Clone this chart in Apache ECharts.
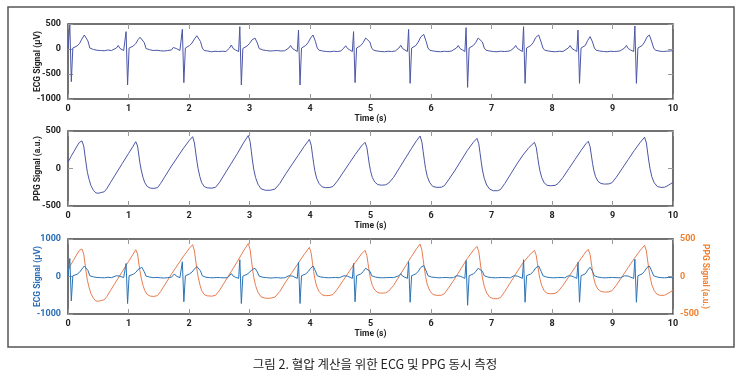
<!DOCTYPE html>
<html><head><meta charset="utf-8">
<script src="https://cdn.jsdelivr.net/npm/echarts@6/dist/echarts.min.js"></script>
<style>html,body{margin:0;padding:0;background:#fff}#c{width:750px;height:380px}</style>
</head><body><div id="c"></div>
<script>
// ---- data ----
const timeTicks = [0,1,2,3,4,5,6,7,8,9,10];
const ecgTicksTop = [-1000,-500,0,500];
const ppgTicks = [-500,0,500];
const ecgTicksBottom = [-1000,0,1000];

// ECG [time s, µV]
const ecg = [
[0,0],[0.01,-20],[0.03,480],[0.055,-653],[0.08,20],[0.11,40],[0.15,60],[0.19,110],[0.23,200],[0.27,280],[0.30,300],[0.33,160],[0.36,20],[0.39,-20],[0.42,-10],[0.45,-40],[0.48,-25],[0.51,-50],[0.54,-30],[0.57,-55],[0.60,-35],[0.63,-45],[0.66,-20],[0.69,-50],[0.72,-30],[0.75,-40],[0.80,20],[0.83,70],[0.86,10],[0.89,-20],[0.92,-30],[0.94,-50],
[0.96,347],[0.985,-720],[1.01,20],[1.04,40],[1.08,60],[1.12,110],[1.16,190],[1.19,235],[1.22,247],[1.26,130],[1.29,10],[1.32,-30],[1.35,-15],[1.38,-45],[1.41,-30],[1.44,-50],[1.47,-25],[1.50,-55],[1.53,-35],[1.56,-60],[1.59,-40],[1.62,-50],[1.65,-30],[1.68,-45],[1.71,-20],[1.74,30],[1.76,70],[1.79,10],[1.82,-20],[1.85,-30],[1.87,-50],
[1.89,393],[1.915,-673],[1.94,20],[1.97,40],[2.01,70],[2.05,120],[2.09,200],[2.13,265],[2.16,280],[2.19,150],[2.22,20],[2.25,-30],[2.28,-20],[2.31,-40],[2.34,-30],[2.37,-55],[2.40,-35],[2.43,-45],[2.46,-25],[2.49,-50],[2.52,-30],[2.55,-45],[2.58,-35],[2.61,-50],[2.64,-30],[2.67,20],[2.70,80],[2.73,10],[2.77,-20],[2.80,-30],[2.82,-50],
[2.84,447],[2.865,-720],[2.89,10],[2.92,40],[2.96,60],[3.00,110],[3.04,180],[3.07,215],[3.09,220],[3.13,120],[3.16,10],[3.19,-30],[3.22,-20],[3.25,-45],[3.28,-30],[3.31,-55],[3.34,-40],[3.37,-60],[3.40,-35],[3.43,-50],[3.46,-30],[3.49,-55],[3.52,-40],[3.55,-60],[3.58,-35],[3.61,-45],[3.65,20],[3.68,70],[3.71,10],[3.75,-20],[3.78,-30],[3.79,-50],
[3.81,380],[3.835,-720],[3.86,20],[3.89,40],[3.93,70],[3.97,130],[4.01,220],[4.05,280],[4.09,150],[4.12,20],[4.15,-25],[4.18,-15],[4.21,-40],[4.24,-25],[4.27,-50],[4.30,-35],[4.33,-55],[4.36,-30],[4.39,-45],[4.42,-25],[4.45,-50],[4.48,-35],[4.51,-40],[4.56,20],[4.59,65],[4.62,10],[4.66,-20],[4.69,-30],[4.70,-50],
[4.72,347],[4.745,-673],[4.77,20],[4.80,40],[4.84,70],[4.88,130],[4.92,220],[4.95,260],[4.99,140],[5.02,20],[5.05,-25],[5.08,-15],[5.11,-40],[5.14,-30],[5.17,-50],[5.20,-35],[5.23,-55],[5.26,-30],[5.29,-45],[5.32,-25],[5.35,-50],[5.38,-30],[5.41,-40],[5.47,20],[5.50,75],[5.53,10],[5.57,-20],[5.60,-30],[5.61,-50],
[5.63,393],[5.655,-687],[5.68,20],[5.71,40],[5.75,70],[5.79,140],[5.83,240],[5.88,293],[5.92,150],[5.95,20],[5.98,-25],[6.01,-15],[6.04,-40],[6.07,-25],[6.10,-50],[6.13,-35],[6.16,-55],[6.19,-30],[6.22,-45],[6.25,-25],[6.28,-50],[6.31,-35],[6.34,-40],[6.37,-30],[6.42,20],[6.45,70],[6.48,10],[6.52,-20],[6.55,-30],[6.56,-50],
[6.58,427],[6.605,-767],[6.63,20],[6.66,40],[6.70,70],[6.74,130],[6.78,220],[6.81,260],[6.85,140],[6.88,20],[6.91,-25],[6.94,-15],[6.97,-40],[7.00,-30],[7.03,-50],[7.06,-35],[7.09,-55],[7.12,-30],[7.15,-45],[7.18,-25],[7.21,-50],[7.24,-30],[7.27,-45],[7.31,-35],[7.37,20],[7.40,70],[7.43,10],[7.47,-20],[7.50,-30],[7.51,-50],
[7.53,447],[7.555,-687],[7.58,20],[7.61,40],[7.65,70],[7.69,130],[7.73,230],[7.78,280],[7.82,140],[7.85,20],[7.88,-25],[7.91,-15],[7.94,-40],[7.97,-30],[8.00,-50],[8.03,-35],[8.06,-55],[8.09,-30],[8.12,-45],[8.15,-25],[8.18,-50],[8.21,-35],[8.27,20],[8.30,70],[8.33,10],[8.37,-20],[8.40,-30],[8.41,-50],
[8.43,380],[8.455,-687],[8.48,20],[8.51,40],[8.55,70],[8.59,170],[8.63,247],[8.67,140],[8.70,20],[8.73,-25],[8.76,-15],[8.79,-40],[8.82,-30],[8.85,-50],[8.88,-35],[8.91,-55],[8.94,-30],[8.97,-45],[9.00,-25],[9.03,-50],[9.06,-30],[9.09,-45],[9.13,-35],[9.20,20],[9.23,70],[9.26,10],[9.30,-20],[9.33,-30],[9.35,-50],
[9.37,460],[9.395,-687],[9.42,20],[9.45,40],[9.49,70],[9.53,140],[9.57,240],[9.61,280],[9.65,140],[9.68,20],[9.71,-25],[9.74,-15],[9.77,-40],[9.80,-30],[9.83,-50],[9.86,-35],[9.89,-45],[9.92,-25],[9.95,-40],[9.98,-30],[10.0,-35]
];

// PPG [time s, a.u.]
const ppg = [
[0,85],[0.05,160],[0.10,230],[0.15,300],[0.19,350],[0.23,367],[0.26,300],[0.28,180],[0.30,60],[0.32,-50],[0.35,-150],[0.38,-230],[0.42,-290],[0.46,-325],[0.50,-330],[0.55,-320],[0.60,-310],[0.64,-270],[0.70,-190],[0.80,-60],[0.90,70],[1.00,200],[1.07,290],[1.12,357],
[1.15,300],[1.17,180],[1.19,70],[1.21,-20],[1.24,-120],[1.27,-190],[1.31,-240],[1.36,-262],[1.42,-265],[1.48,-255],[1.53,-200],[1.60,-110],[1.70,20],[1.80,140],[1.90,260],[2.00,370],[2.06,424],
[2.09,340],[2.11,220],[2.13,100],[2.15,0],[2.18,-110],[2.21,-190],[2.25,-240],[2.30,-258],[2.38,-262],[2.44,-250],[2.50,-190],[2.60,-60],[2.70,70],[2.80,200],[2.90,340],[2.98,440],
[3.01,360],[3.03,230],[3.05,100],[3.07,-10],[3.10,-120],[3.14,-210],[3.19,-270],[3.26,-290],[3.34,-290],[3.42,-275],[3.50,-200],[3.60,-70],[3.70,50],[3.80,170],[3.90,290],[3.99,389],
[4.02,310],[4.04,190],[4.06,70],[4.08,-30],[4.11,-130],[4.15,-200],[4.20,-245],[4.26,-256],[4.33,-252],[4.38,-240],[4.45,-170],[4.55,-50],[4.65,70],[4.75,190],[4.85,300],[4.91,349],
[4.94,280],[4.96,170],[4.98,60],[5.00,-30],[5.03,-120],[5.07,-180],[5.12,-215],[5.18,-222],[5.25,-218],[5.30,-195],[5.38,-120],[5.48,10],[5.58,140],[5.68,270],[5.76,370],[5.82,433],
[5.85,350],[5.87,230],[5.89,110],[5.91,0],[5.94,-110],[5.98,-190],[6.03,-240],[6.10,-252],[6.17,-250],[6.22,-230],[6.30,-140],[6.40,-20],[6.50,110],[6.60,240],[6.70,350],[6.76,402],
[6.79,330],[6.81,210],[6.83,90],[6.85,-20],[6.88,-130],[6.92,-220],[6.97,-275],[7.03,-296],[7.10,-296],[7.15,-280],[7.22,-200],[7.32,-70],[7.42,60],[7.52,180],[7.62,280],[7.71,349],
[7.74,280],[7.76,170],[7.78,60],[7.80,-30],[7.83,-120],[7.87,-190],[7.92,-225],[7.98,-230],[8.05,-225],[8.10,-200],[8.18,-120],[8.28,0],[8.38,120],[8.48,240],[8.56,330],[8.60,363],
[8.63,290],[8.65,180],[8.67,70],[8.69,-20],[8.72,-110],[8.76,-170],[8.81,-200],[8.87,-208],[8.94,-205],[8.99,-190],[9.06,-120],[9.16,0],[9.26,120],[9.36,240],[9.46,350],[9.53,417],
[9.56,340],[9.58,220],[9.60,100],[9.62,0],[9.65,-110],[9.69,-190],[9.74,-240],[9.80,-252],[9.86,-250],[9.92,-225],[10.0,-184]
];

const caption = '그림 2. 혈압 계산을 위한 ECG 및 PPG 동시 측정';

// ---- chart ----
const chart = echarts.init(document.getElementById('c'));
const FONT = 'Roboto';
const lbl = {fontFamily: FONT, fontWeight: 'bold', fontSize: 9, color: '#222', formatter: v => String(v)};
const nameStyle = {fontFamily: FONT, fontWeight: 'bold', fontSize: 8.5, color: '#222'};
const tickStyle = {show: true, inside: true, length: 5, lineStyle: {color: '#999', width: 1}};
const grids = [
  {left: 68, right: 77, top: 24, height: 75},
  {left: 68, right: 77, top: 131, height: 75},
  {left: 68, right: 77, top: 239, height: 75}
];
grids.forEach(g => { g.show = true; g.borderColor = '#444'; g.borderWidth = 1.5; g.backgroundColor = 'transparent'; });

function xAxisFor(i, withName) {
  return {
    type: 'value', gridIndex: i, min: timeTicks[0], max: timeTicks[timeTicks.length - 1], interval: 1,
    position: 'bottom', axisLine: {show: false, onZero: false}, splitLine: {show: false},
    axisTick: tickStyle, axisLabel: Object.assign({margin: 5}, lbl),
    name: withName ? 'Time (s)' : '', nameLocation: 'middle', nameGap: 15, nameMoveOverlap: false, nameTextStyle: nameStyle
  };
}
function xTopFor(i) {
  return {type: 'value', gridIndex: i, min: 0, max: 10, interval: 1, position: 'top',
    axisLine: {show: false, onZero: false}, splitLine: {show: false}, axisTick: tickStyle, axisLabel: {show: false}};
}
function yAxisFor(i, ticks, name, color, pos, showLabel) {
  const mn = ticks[0], mx = ticks[ticks.length - 1];
  return {
    type: 'value', gridIndex: i, min: mn, max: mx, interval: ticks[1] - ticks[0], position: pos,
    axisLine: {show: false, onZero: false}, splitLine: {show: false}, axisTick: tickStyle,
    axisLabel: Object.assign({}, lbl, {show: showLabel, color: color || '#222', margin: 7}),
    name: name, nameLocation: 'middle', nameGap: pos === 'left' ? 26 : 28, nameRotate: pos === 'left' ? 90 : -90,
    nameMoveOverlap: false,
    nameTextStyle: Object.assign({}, nameStyle, {color: color || '#222'})
  };
}

chart.setOption({
  animation: false,
  backgroundColor: '#fff',
  grid: grids,
  xAxis: [xAxisFor(0, true), xAxisFor(1, true), xAxisFor(2, true), xTopFor(0), xTopFor(1), xTopFor(2)],
  yAxis: [
    yAxisFor(0, ecgTicksTop, 'ECG Signal (µV)', '#222', 'left', true),
    yAxisFor(1, ppgTicks, 'PPG Signal (a.u.)', '#222', 'left', true),
    yAxisFor(2, ecgTicksBottom, 'ECG Signal (µV)', '#2a6db5', 'left', true),
    yAxisFor(2, ppgTicks, 'PPG Signal (a.u.)', '#f07f2e', 'right', true),
    yAxisFor(0, ecgTicksTop, '', '#222', 'right', false),
    yAxisFor(1, ppgTicks, '', '#222', 'right', false)
  ],
  series: [
    {type: 'line', xAxisIndex: 0, yAxisIndex: 0, data: ecg, showSymbol: false, lineStyle: {color: '#4b56a6', width: 1}},
    {type: 'line', xAxisIndex: 1, yAxisIndex: 1, data: ppg, showSymbol: false, lineStyle: {color: '#4b56a6', width: 1}},
    {type: 'line', xAxisIndex: 2, yAxisIndex: 3, data: ppg, showSymbol: false, lineStyle: {color: '#e87d50', width: 1}},
    {type: 'line', xAxisIndex: 2, yAxisIndex: 2, data: ecg, showSymbol: false, lineStyle: {color: '#2b73b6', width: 1}}
  ],
  graphic: [
    {type: 'rect', shape: {x: 8, y: 7, width: 726, height: 340}, style: {fill: 'none', stroke: '#555', lineWidth: 1.5}, silent: true},
    {type: 'text', x: 375, y: 364, style: {text: caption, fontFamily: 'Noto Sans CJK KR', fontSize: 12.5, fill: '#222', textAlign: 'center', textVerticalAlign: 'middle'}}
  ]
});
</script></body></html>
